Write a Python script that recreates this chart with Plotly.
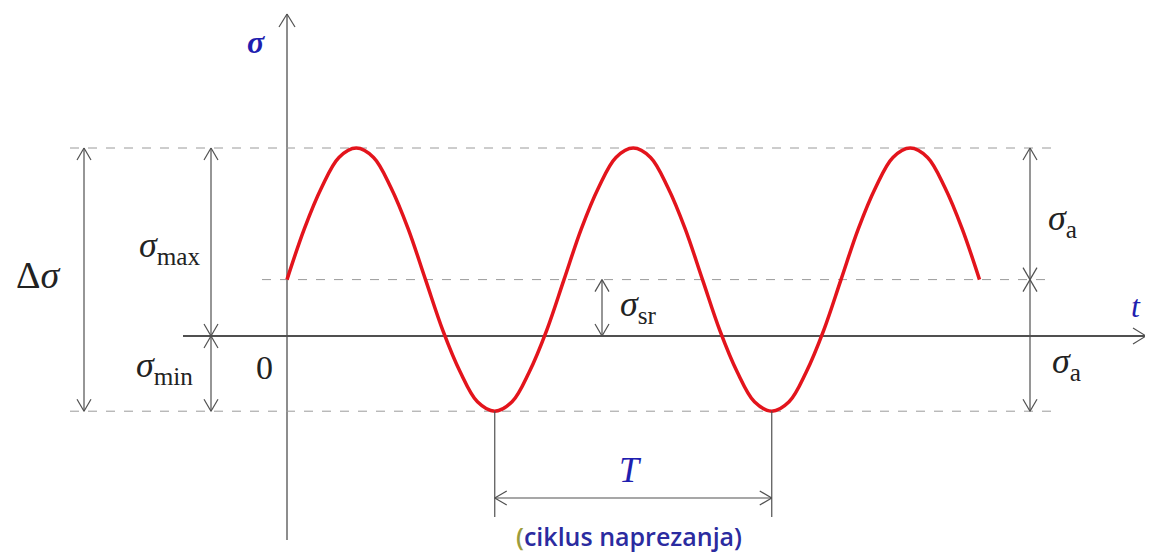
import plotly.graph_objects as go

# stress levels (units of sigma_max)
sigma_max = 1.0
sigma_min = -0.4
sigma_sr = 0.3
period = 1.0

# red stress curve
t_curve = [0.0, 0.0625, 0.125, 0.1875, 0.25, 0.3125, 0.375, 0.4375, 0.5,
           0.5625, 0.625, 0.6875, 0.75, 0.8125, 0.875, 0.9375, 1.0,
           1.0625, 1.125, 1.1875, 1.25, 1.3125, 1.375, 1.4375, 1.5,
           1.5625, 1.625, 1.6875, 1.75, 1.8125, 1.875, 1.9375, 2.0,
           2.0625, 2.125, 2.1875, 2.25, 2.3125, 2.375, 2.4375, 2.5]
s_curve = [0.3, 0.57, 0.79, 0.95, 1.0, 0.95, 0.79, 0.57, 0.3,
           0.03, -0.19, -0.35, -0.4, -0.35, -0.19, 0.03, 0.3,
           0.57, 0.79, 0.95, 1.0, 0.95, 0.79, 0.57, 0.3,
           0.03, -0.19, -0.35, -0.4, -0.35, -0.19, 0.03, 0.3,
           0.57, 0.79, 0.95, 1.0, 0.95, 0.79, 0.57, 0.3]

W, H = 1153, 555
PAD = 8                 # page body margin
SX, SY = 277.0, 188.0   # pixels per unit
X0, Y0 = 287, 336       # pixel position of the origin
xr = [(PAD - X0) / SX, (W + PAD - X0) / SX]
yr = [(Y0 - H - PAD) / SY, (Y0 - PAD) / SY]


def px(x):
    return (x - X0) / SX


def py(y):
    return (Y0 - y) / SY


GREY = "#505050"
fig = go.Figure()

# axes
fig.add_trace(go.Scatter(x=[0, 0], y=[py(540), py(14)], mode="lines",
                         line=dict(color=GREY, width=1.3), hoverinfo="skip"))
fig.add_trace(go.Scatter(x=[px(183), px(1146)], y=[0, 0], mode="lines",
                         line=dict(color=GREY, width=1.8), hoverinfo="skip"))

# dashed guide lines
for lvl, x_a, x_b in [(sigma_max, px(70), px(1056)),
                      (sigma_sr, px(262), px(1046)),
                      (sigma_min, px(70), px(1052))]:
    fig.add_trace(go.Scatter(x=[x_a, x_b], y=[lvl, lvl], mode="lines",
                             line=dict(color="#9a9a9a", width=1, dash="dash"),
                             hoverinfo="skip"))

# curve
fig.add_trace(go.Scatter(x=t_curve, y=s_curve, mode="lines",
                         line=dict(color="#e3141c", width=3.5, shape="spline", smoothing=1.0),
                         hoverinfo="skip"))

# dimension lines and chevron heads
seg_x, seg_y = [], []


def seg(x0, y0, x1, y1):
    seg_x.extend([x0, x1, None])
    seg_y.extend([y0, y1, None])


def head(x, y, ux, uy, L=12, Wd=7):
    # tip at data (x,y); direction (ux,uy) in screen pixels (y down)
    tx, ty = X0 + x * SX, Y0 - y * SY
    for s in (1, -1):
        ax = tx - L * ux + s * Wd * (-uy)
        ay = ty - L * uy + s * Wd * ux
        seg(px(ax), py(ay), x, y)


x_ds, x_mm, x_sr, x_a = px(84), px(211), px(602), px(1030)
seg(x_ds, sigma_min, x_ds, sigma_max)
head(x_ds, sigma_max, 0, -1); head(x_ds, sigma_min, 0, 1)
seg(x_mm, sigma_min, x_mm, sigma_max)
head(x_mm, sigma_max, 0, -1); head(x_mm, 0, 0, 1)
head(x_mm, 0, 0, -1); head(x_mm, sigma_min, 0, 1)
seg(x_sr, 0, x_sr, sigma_sr)
head(x_sr, sigma_sr, 0, -1); head(x_sr, 0, 0, 1)
seg(x_a, sigma_min, x_a, sigma_max)
head(x_a, sigma_max, 0, -1); head(x_a, sigma_sr, 0, 1)
head(x_a, sigma_sr, 0, -1); head(x_a, sigma_min, 0, 1)

t1, t2 = 0.75 * period, 1.75 * period
y_T = py(498)
seg(t1, sigma_min, t1, py(517))
seg(t2, sigma_min, t2, py(517))
seg(t1, y_T, t2, y_T)
head(t1, y_T, -1, 0); head(t2, y_T, 1, 0)
head(0, py(14), 0, -1, L=13, Wd=8)
head(px(1146), 0, 1, 0, L=13, Wd=8)

fig.add_trace(go.Scatter(x=seg_x, y=seg_y, mode="lines",
                         line=dict(color=GREY, width=1.2), hoverinfo="skip"))

SERIF = "Liberation Serif"
BLUE = "#1f1fb0"
INK = "#222222"
labels = [
    (px(38), py(275), "Δ<i>σ</i>", "center", 38, INK),
    (px(203), py(247), "<i>σ</i><sub>max</sub>", "right", 36, INK),
    (px(195), py(367), "<i>σ</i><sub>min</sub>", "right", 36, INK),
    (px(264), py(367), "0", "center", 34, INK),
    (px(618), py(306), "<i>σ</i><sub>sr</sub>", "left", 36, INK),
    (px(1046), py(220), "<i>σ</i><sub>a</sub>", "left", 36, INK),
    (px(1050), py(363), "<i>σ</i><sub>a</sub>", "left", 36, INK),
    (px(1136), py(306), "<i>t</i>", "center", 32, BLUE),
    (px(256), py(42), "<b><i>σ</i></b>", "center", 32, BLUE),
    (px(630), py(470), "<i>T</i>", "center", 36, BLUE),
]
for x, y, txt, anc, size, col in labels:
    fig.add_annotation(x=x, y=y, text=txt, showarrow=False, xanchor=anc, yanchor="middle",
                       font=dict(family=SERIF, size=size, color=col))

fig.add_annotation(x=px(629), y=py(536), showarrow=False,
                   text="<span style='color:#9c9c3c'>(</span>ciklus naprezanja)",
                   font=dict(family="Open Sans", size=25, color="#2b2ba0", weight=600))

fig.update_layout(
    width=W, height=H, margin=dict(l=0, r=0, t=0, b=0),
    paper_bgcolor="white", plot_bgcolor="white", showlegend=False,
    xaxis=dict(range=xr, visible=False, fixedrange=True),
    yaxis=dict(range=yr, visible=False, fixedrange=True),
)
fig.write_html("out.html")
